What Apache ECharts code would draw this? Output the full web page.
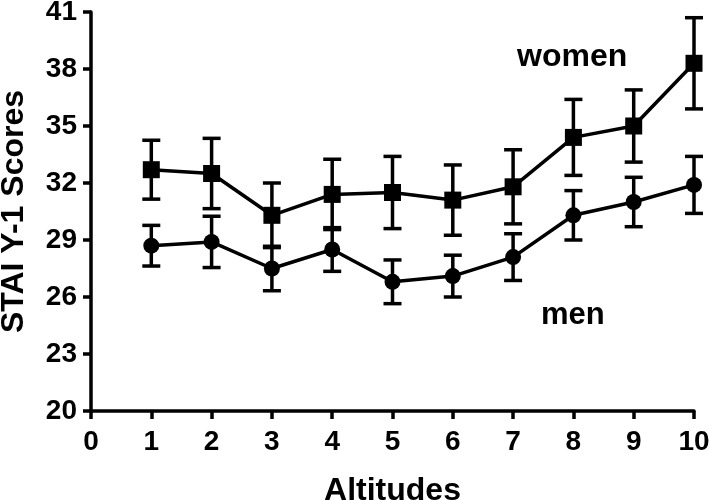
<!DOCTYPE html>
<html>
<head>
<meta charset="utf-8">
<script src="https://cdn.jsdelivr.net/npm/echarts@6/dist/echarts.min.js"></script>
<style>
  html, body { margin: 0; padding: 0; background: #fff; }
  #main { width: 709px; height: 500px; }
</style>
</head>
<body>
<div id="main"></div>
<script>
var altitudes = [1, 2, 3, 4, 5, 6, 7, 8, 9, 10];
var womenMean = [32.7, 32.5, 30.3, 31.4, 31.5, 31.1, 31.8, 34.4, 35.0, 38.3];
var womenErr  = [1.55, 1.85, 1.7, 1.85, 1.9, 1.85, 1.95, 2.0, 1.9, 2.4];
var menMean   = [28.7, 28.9, 27.5, 28.5, 26.8, 27.1, 28.1, 30.3, 31.0, 31.9];
var menErr    = [1.07, 1.35, 1.17, 1.15, 1.15, 1.1, 1.23, 1.3, 1.3, 1.5];
var yTicks = [20, 23, 26, 29, 32, 35, 38, 41];

function pairs(means){
    return altitudes.map(function(a, i){ return [a, means[i]]; });
}
function bars(means, errs){
    return altitudes.map(function(a, i){ return [a, means[i] - errs[i], means[i] + errs[i]]; });
}
function renderBar(params, api){
    var x = api.value(0);
    var lo = api.coord([x, api.value(1)]);
    var hi = api.coord([x, api.value(2)]);
    var hw = 9;
    var st = {stroke: '#000', lineWidth: 3.5};
    return {type: 'group', children: [
        {type: 'line', shape: {x1: lo[0], y1: lo[1], x2: hi[0], y2: hi[1]}, style: st},
        {type: 'line', shape: {x1: lo[0] - hw, y1: lo[1], x2: lo[0] + hw, y2: lo[1]}, style: st},
        {type: 'line', shape: {x1: hi[0] - hw, y1: hi[1], x2: hi[0] + hw, y2: hi[1]}, style: st}
    ]};
}

var chartDom = document.getElementById('main');
var myChart = echarts.init(chartDom);
var font = 'Liberation Sans, Arial, sans-serif';
var option = {
    animation: false,
    textStyle: {fontFamily: font},
    grid: {left: 91, right: 15, top: 12, bottom: 89, containLabel: false, outerBoundsMode: 'none'},
    xAxis: {
        type: 'value', min: 0, max: 10, interval: 1,
        name: 'Altitudes', nameLocation: 'middle', nameGap: 64,
        nameTextStyle: {fontSize: 32, fontWeight: 'bold', color: '#000', fontFamily: font},
        axisLine: {show: true, lineStyle: {color: '#000', width: 3.5}},
        axisTick: {show: true, length: 8, lineStyle: {color: '#000', width: 3.5}},
        axisLabel: {fontSize: 28, fontWeight: 'bold', color: '#000', margin: 17, fontFamily: font},
        splitLine: {show: false}
    },
    yAxis: {
        type: 'value', min: 20, max: 41,
        name: 'STAI Y-1 Scores', nameLocation: 'middle', nameGap: 61,
        nameTextStyle: {fontSize: 32, fontWeight: 'bold', color: '#000', fontFamily: font},
        axisLine: {show: true, lineStyle: {color: '#000', width: 3.5}},
        axisTick: {show: true, length: 8, customValues: yTicks, lineStyle: {color: '#000', width: 3.5}},
        axisLabel: {fontSize: 28, fontWeight: 'bold', color: '#000', margin: 14, customValues: yTicks, fontFamily: font},
        splitLine: {show: false}
    },
    graphic: [
        {type: 'text', left: 517, top: 41, style: {text: 'women', fontSize: 32, fontWeight: 'bold', fill: '#000', fontFamily: font}},
        {type: 'text', left: 541, top: 300, style: {text: 'men', fontSize: 31, fontWeight: 'bold', fill: '#000', fontFamily: font}}
    ],
    series: [
        {type: 'custom', renderItem: renderBar, data: bars(womenMean, womenErr), z: 1},
        {type: 'custom', renderItem: renderBar, data: bars(menMean, menErr), z: 1},
        {type: 'line', name: 'women', data: pairs(womenMean), symbol: 'rect', symbolSize: 17,
         lineStyle: {color: '#000', width: 3.5}, itemStyle: {color: '#000'}, z: 3},
        {type: 'line', name: 'men', data: pairs(menMean), symbol: 'circle', symbolSize: 16,
         lineStyle: {color: '#000', width: 3.5}, itemStyle: {color: '#000'}, z: 3}
    ]
};
option && myChart.setOption(option);
</script>
</body>
</html>
